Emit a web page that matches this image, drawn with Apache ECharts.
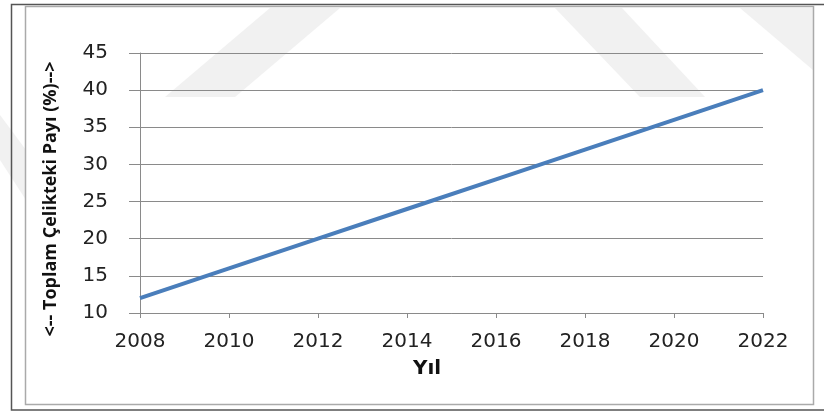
<!DOCTYPE html>
<html>
<head>
<meta charset="utf-8">
<script src="https://cdn.jsdelivr.net/npm/echarts@6/dist/echarts.min.js"></script>
<style>
html,body{margin:0;padding:0;background:#fff;}
#chart{width:824px;height:412px;}
</style>
</head>
<body>
<div id="chart"></div>
<script>
// Data
var years = [2008, 2010, 2012, 2014, 2016, 2018, 2020, 2022];
var share = [12, 16, 20, 24, 28, 32, 36, 40];
var yTicks = [10, 15, 20, 25, 30, 35, 40, 45];
var xTitle = 'Yıl';
var yTitle = '<-- Toplam Çelikteki Payı (%)-->';

var chart = echarts.init(document.getElementById('chart'));
var labelFont = {color: '#222', fontFamily: 'DejaVu Sans', fontSize: 20};
var stripe = '#f1f1f1';
chart.setOption({
  animation: false,
  backgroundColor: '#fff',
  grid: {left: 140, right: 61, top: 53, bottom: 99, containLabel: false},
  graphic: [
    {type: 'polygon', z: -10, shape: {points: [[165,97],[235,97],[340,8],[270,8]]}, style: {fill: stripe}},
    {type: 'polygon', z: -10, shape: {points: [[555,8],[622,8],[705,97],[640,97]]}, style: {fill: stripe}},
    {type: 'polygon', z: -10, shape: {points: [[740,8],[813,8],[813,70]]}, style: {fill: stripe}},
    {type: 'polygon', z: -10, shape: {points: [[0,115],[0,160],[26,200],[26,150]]}, style: {fill: stripe}},
    {type: 'rect', z: 100, shape: {x: 11.5, y: 4.5, width: 830, height: 405.5}, style: {fill: 'none', stroke: '#555', lineWidth: 1.5}},
    {type: 'rect', z: 100, shape: {x: 25.5, y: 6.5, width: 788, height: 398}, style: {fill: 'none', stroke: '#aaa', lineWidth: 1.5}},
    {type: 'text', left: 413, top: 359, style: {text: xTitle, font: 'bold 20px "DejaVu Sans"', fill: '#111'}},
    {type: 'text', x: 51, y: 199, rotation: Math.PI / 2, style: {text: yTitle, font: 'bold 18px "Open Sans"', fill: '#111', align: 'center', verticalAlign: 'middle'}}
  ],
  xAxis: {
    type: 'value', min: years[0], max: years[years.length - 1], interval: 2,
    axisLine: {show: true, lineStyle: {color: '#8a8a8a', width: 1}},
    axisTick: {show: true, length: 5, lineStyle: {color: '#8a8a8a'}},
    axisLabel: Object.assign({margin: 19, formatter: function (v) { return String(v); }}, labelFont),
    splitLine: {show: false}
  },
  yAxis: {
    type: 'value', min: yTicks[0], max: yTicks[yTicks.length - 1], interval: 5,
    axisLine: {show: true, lineStyle: {color: '#8a8a8a', width: 1}},
    axisTick: {show: true, length: 11, lineStyle: {color: '#8a8a8a'}},
    axisLabel: Object.assign({margin: 32}, labelFont),
    splitLine: {show: true, lineStyle: {color: '#8a8a8a', width: 1}}
  },
  series: [{
    type: 'line',
    data: years.map(function (y, i) { return [y, share[i]]; }),
    showSymbol: false,
    lineStyle: {color: '#4a7ebb', width: 4},
    itemStyle: {color: '#4a7ebb'}
  }]
});
</script>
</body>
</html>
